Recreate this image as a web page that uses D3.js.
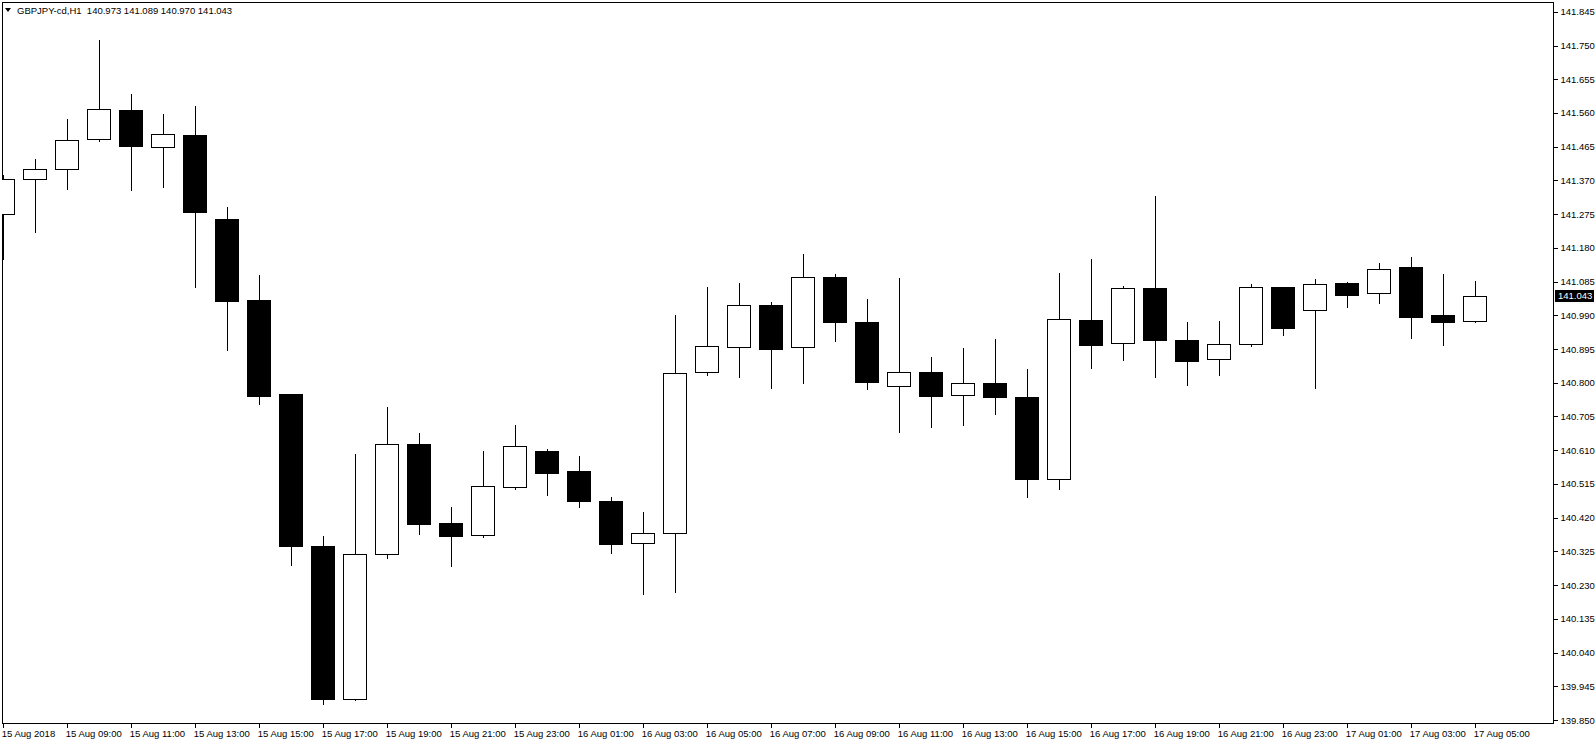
<!DOCTYPE html>
<html>
<head>
<meta charset="utf-8">
<script src="https://cdn.jsdelivr.net/npm/d3@7/dist/d3.min.js"></script>
<style>
  body { margin: 0; background: #fff; overflow: hidden; }
  text { font-family: "Liberation Sans", Arial, sans-serif; font-size: 9.5px; fill: #000; }
</style>
</head>
<body>
<script>
'use strict';

// GBPJPY H1 bars, 15 Aug 2018 07:00 -> 17 Aug 2018 05:00
const symbol = "GBPJPY-cd,H1";
const firstBar = "2018-08-15T07:00:00Z";

const opens = [141.275, 141.373, 141.401, 141.486, 141.568, 141.465, 141.498, 141.261, 141.033, 140.768,
  140.340, 139.910, 140.317, 140.627, 140.405, 140.370, 140.505, 140.608, 140.551, 140.467,
  140.348, 140.376, 140.829, 140.900, 141.018, 140.900, 141.097, 140.971, 140.790, 140.829,
  140.765, 140.799, 140.760, 140.528, 140.977, 140.911, 141.067, 140.920, 140.866, 140.908,
  141.069, 141.004, 141.081, 141.052, 141.126, 140.991, 140.973];
const highs = [141.388, 141.433, 141.546, 141.768, 141.616, 141.560, 141.582, 141.298, 141.106, 140.771,
  140.371, 140.602, 140.735, 140.661, 140.453, 140.611, 140.684, 140.616, 140.596, 140.481,
  140.439, 140.994, 141.073, 141.084, 141.030, 141.166, 141.109, 141.039, 141.098, 140.875,
  140.901, 140.926, 140.842, 141.112, 141.151, 141.075, 141.329, 140.974, 140.977, 141.081,
  141.072, 141.095, 141.087, 141.140, 141.157, 141.109, 141.089];
const lows = [141.149, 141.225, 141.347, 141.482, 141.344, 141.352, 141.071, 140.893, 140.741, 140.287,
  139.896, 139.907, 140.307, 140.375, 140.285, 140.366, 140.502, 140.485, 140.451, 140.321,
  140.206, 140.211, 140.823, 140.817, 140.786, 140.800, 140.918, 140.783, 140.662, 140.676,
  140.682, 140.713, 140.479, 140.502, 140.842, 140.865, 140.817, 140.794, 140.823, 140.904,
  140.935, 140.786, 141.014, 141.026, 140.927, 140.907, 140.970];
const closes = [141.373, 141.401, 141.483, 141.570, 141.467, 141.500, 141.281, 141.031, 140.764, 140.341,
  139.910, 140.318, 140.627, 140.402, 140.369, 140.508, 140.621, 140.546, 140.468, 140.347,
  140.376, 140.827, 140.903, 141.018, 140.896, 141.097, 140.972, 140.803, 140.829, 140.764,
  140.798, 140.761, 140.528, 140.979, 140.907, 141.066, 140.921, 140.862, 140.908, 141.069,
  140.955, 141.077, 141.048, 141.120, 140.986, 140.972, 141.043];

const priceTicks = [139.850, 139.945, 140.040, 140.135, 140.230, 140.325, 140.420, 140.515, 140.610, 140.705,
  140.800, 140.895, 140.990, 141.085, 141.180, 141.275, 141.370, 141.465, 141.560, 141.655,
  141.750, 141.845];
const timeLabels = ["15 Aug 2018", "15 Aug 09:00", "15 Aug 11:00", "15 Aug 13:00", "15 Aug 15:00",
  "15 Aug 17:00", "15 Aug 19:00", "15 Aug 21:00", "15 Aug 23:00", "16 Aug 01:00", "16 Aug 03:00",
  "16 Aug 05:00", "16 Aug 07:00", "16 Aug 09:00", "16 Aug 11:00", "16 Aug 13:00", "16 Aug 15:00",
  "16 Aug 17:00", "16 Aug 19:00", "16 Aug 21:00", "16 Aug 23:00", "17 Aug 01:00", "17 Aug 03:00",
  "17 Aug 05:00"];

(function() {

  let width = 1596;
  let height = 744;
  let left = 2, top = 2, right = 1553, bottom = 723;
  let svgContainer = "";
  let bars = [];

  window.onload = function() {
    svgContainer = d3.select('body')
      .append('svg')
      .attr('width', width)
      .attr('height', height);

    let t0 = new Date(firstBar);
    bars = opens.map((o, i) => ({
      time: d3.utcHour.offset(t0, i),
      open: o, high: highs[i], low: lows[i], close: closes[i]
    }));

    let map = drawAxes();
    plotData(map);
    makeLabels(map);
  }

  function drawAxes() {
    let xScale = d3.scaleUtc()
      .domain([bars[0].time, bars[bars.length - 1].time])
      .range([3.3, 3.3 + 32 * (bars.length - 1)]);

    // 355 px per 1.000 yen
    let yScale = d3.scaleLinear()
      .domain([139.85, 141.845])
      .range([720, 720 - 1.995 * 355]);

    // frame
    svgContainer.append('rect')
      .attr('x', left + 0.5)
      .attr('y', top + 0.5)
      .attr('width', right - left)
      .attr('height', bottom - top)
      .attr('fill', 'none')
      .attr('stroke', '#000')
      .attr('shape-rendering', 'crispEdges');

    let timeTicks = timeLabels.map((d, i) => d3.utcHour.offset(bars[0].time, 2 * i));
    let xAxis = d3.axisBottom(xScale)
      .tickValues(timeTicks)
      .tickSize(4)
      .tickFormat((d, i) => timeLabels[i]);
    let gx = svgContainer.append('g')
      .attr('transform', 'translate(0,' + (bottom + 0.5) + ')')
      .call(xAxis);
    gx.select('.domain').remove();
    gx.selectAll('.tick line')
      .attr('transform', function() {
        let x = +d3.select(this.parentNode).attr('transform').match(/\(([-\d.]+)/)[1];
        return 'translate(' + (Math.floor(x) + 0.5 - x) + ',0)';
      })
      .attr('shape-rendering', 'crispEdges');
    gx.selectAll('.tick text')
      .attr('text-anchor', 'start')
      .attr('x', -2)
      .attr('y', 6)
      .attr('dy', '0.75em')
      .style('font-family', '"Liberation Sans", Arial, sans-serif')
      .style('font-size', '9.5px');

    let yAxis = d3.axisRight(yScale)
      .tickValues(priceTicks)
      .tickSize(4)
      .tickPadding(3)
      .tickFormat(d3.format('.3f'));
    let gy = svgContainer.append('g')
      .attr('transform', 'translate(' + (right + 0.5) + ',0)')
      .call(yAxis);
    gy.select('.domain').remove();
    gy.selectAll('.tick line').attr('shape-rendering', 'crispEdges');
    gy.selectAll('.tick text')
      .style('font-family', '"Liberation Sans", Arial, sans-serif')
      .style('font-size', '9.5px');

    return {
      xScale: xScale,
      yScale: yScale
    };
  }

  function plotData(map) {
    svgContainer.append('clipPath')
      .attr('id', 'plot-clip')
      .append('rect')
      .attr('x', left)
      .attr('y', top)
      .attr('width', right - left + 1)
      .attr('height', bottom - top + 1);

    let px = d => Math.floor(map.xScale(d.time));
    let py = v => Math.round(map.yScale(v)) + 0.5;

    let candles = svgContainer.append('g')
      .attr('clip-path', 'url(#plot-clip)')
      .attr('shape-rendering', 'crispEdges')
      .selectAll('.candle')
      .data(bars)
      .enter()
      .append('g')
      .attr('class', 'candle');

    candles.append('line')
      .attr('x1', d => px(d) + 0.5)
      .attr('x2', d => px(d) + 0.5)
      .attr('y1', d => py(d.high))
      .attr('y2', d => py(d.low))
      .attr('stroke', '#000');

    candles.append('rect')
      .attr('x', d => px(d) - 11.5)
      .attr('width', 23)
      .attr('y', d => py(Math.max(d.open, d.close)))
      .attr('height', d => Math.max(1, py(Math.min(d.open, d.close)) - py(Math.max(d.open, d.close))))
      .attr('fill', d => d.close >= d.open ? '#fff' : '#000')
      .attr('stroke', '#000');
  }

  function makeLabels(map) {
    let last = bars[bars.length - 1];

    // title with last bar OHLC
    svgContainer.append('path')
      .attr('d', 'M5,8 L11,8 L8,12 Z')
      .attr('fill', '#000');
    svgContainer.append('text')
      .attr('x', 17)
      .attr('y', 14)
      .style('white-space', 'pre')
      .text(symbol + '  ' + [last.open, last.high, last.low, last.close].map(d3.format('.3f')).join(' '));

    // current price marker
    let y = Math.round(map.yScale(last.close));
    svgContainer.append('rect')
      .attr('x', right + 2)
      .attr('y', y - 6)
      .attr('width', 39)
      .attr('height', 12)
      .attr('fill', '#000');
    svgContainer.append('text')
      .attr('x', right + 5)
      .attr('y', y)
      .attr('dy', '0.34em')
      .style('fill', '#fff')
      .text(d3.format('.3f')(last.close));
  }

})();
</script>
</body>
</html>
